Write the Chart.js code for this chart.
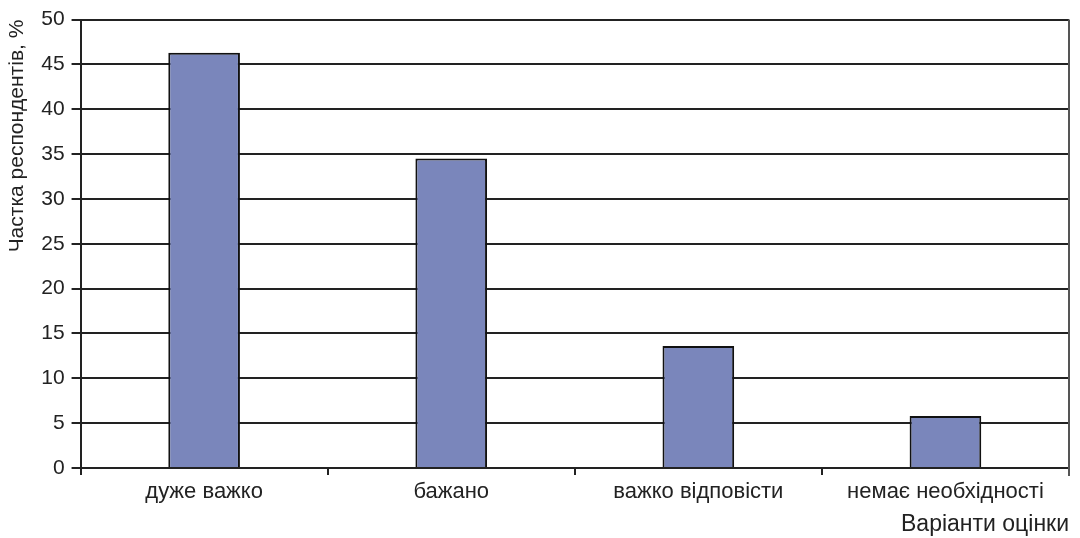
<!DOCTYPE html>
<html>
<head>
<meta charset="utf-8">
<script src="https://cdn.jsdelivr.net/npm/chart.js@4"></script>
<style>
  html, body { margin: 0; padding: 0; background: #fff; }
  #wrap { width: 1080px; height: 538px; }
</style>
</head>
<body>
<div id="wrap"><canvas id="id_canv" width="1080" height="538"></canvas></div>
<script>
// categories and values
const categories = ['дуже важко', 'бажано', 'важко відповісти', 'немає необхідності']
const shares = [46.3, 34.5, 13.6, 5.8]
const yTicks = [0, 5, 10, 15, 20, 25, 30, 35, 40, 45, 50]

// draws the right edge of the plot frame
const frame = {
  id: 'frame',
  afterDraw(chart) {
    let a = chart.chartArea
    let c = chart.ctx
    c.save()
    c.strokeStyle = '#555'
    c.lineWidth = 2
    c.beginPath()
    c.moveTo(a.right, a.top)
    c.lineTo(a.right, a.bottom + 8)
    c.stroke()
    c.restore()
  }
}

let c = document.getElementById('id_canv').getContext('2d')
new Chart(c, {
  type: 'bar',
  data: {
    labels: categories,
    datasets: [{
      data: shares,
      backgroundColor: '#7a86bb',
      borderColor: '#111',
      borderWidth: 2,
      barPercentage: 0.29,
      categoryPercentage: 1
    }]
  },
  options: {
    responsive: false,
    animation: false,
    layout: { padding: { top: 4, right: 11, left: 5, bottom: 0 } },
    plugins: { legend: { display: false }, tooltip: { enabled: false } },
    scales: {
      x: {
        grid: { drawOnChartArea: false, drawTicks: true, tickLength: 7, color: '#222', lineWidth: 2, offset: true },
        border: { color: '#222', width: 2 },
        ticks: { color: '#222', font: { family: 'Liberation Sans', size: 22 }, padding: 4, maxRotation: 0 },
        title: {
          display: true, text: 'Варіанти оцінки', align: 'end', color: '#222',
          font: { family: 'Liberation Sans', size: 23 }, padding: { top: 1, bottom: 0 }
        }
      },
      y: {
        min: 0, max: 50,
        afterBuildTicks(axis) { axis.ticks = yTicks.map(v => ({ value: v })) },
        grid: { color: '#222', lineWidth: 2, tickLength: 9 },
        border: { color: '#222', width: 2 },
        ticks: { color: '#222', font: { family: 'Liberation Sans', size: 21 }, padding: 7 },
        title: {
          display: true, text: 'Частка респондентів, %', align: 'end', color: '#222',
          font: { family: 'Liberation Sans', size: 21 }, padding: { top: 0, bottom: 4 }
        }
      }
    }
  },
  plugins: [frame]
})
</script>
</body>
</html>
